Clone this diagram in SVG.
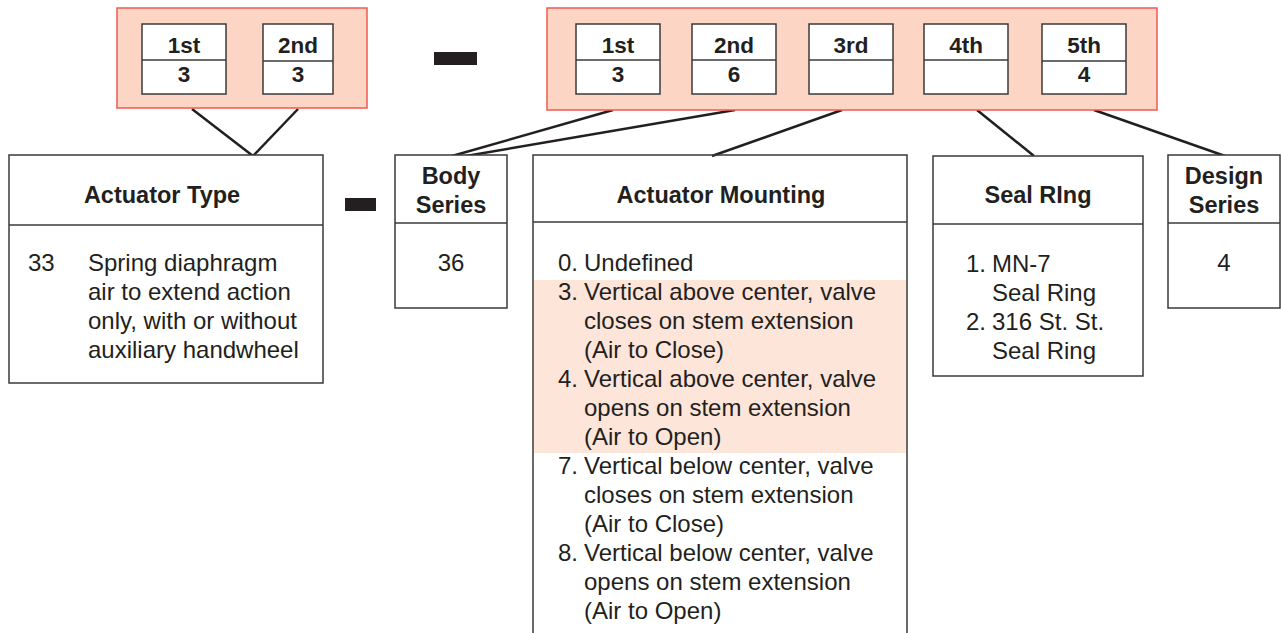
<svg xmlns="http://www.w3.org/2000/svg" width="1281" height="633" viewBox="0 0 1281 633">
<style>
.grp{fill:#fcd5c4;stroke:#ef5a50;stroke-width:1.5}
.cell{fill:#fff;stroke:#3a3a3a;stroke-width:1.5}
.box{fill:#fff;stroke:#3a3a3a;stroke-width:1.5}
.open{fill:none;stroke:#3a3a3a;stroke-width:1.5}
.sep{stroke:#3a3a3a;stroke-width:1.5}
.con{stroke:#231f20;stroke-width:2.5;fill:none}
.b{font-family:"Liberation Sans",Arial,sans-serif;font-weight:bold;font-size:23.5px;fill:#231f20;text-anchor:middle}
.d{font-size:22.5px}
.t{font-family:"Liberation Sans",Arial,sans-serif;font-size:24px;fill:#231f20}
.c{text-anchor:middle}
.dash{fill:#231f20}
</style>
<rect width="1281" height="633" fill="#fff"/>

<g id="connectors">
<line class="con" x1="192" y1="109" x2="253" y2="156"/>
<line class="con" x1="298" y1="109" x2="253" y2="156"/>
<line class="con" x1="613" y1="110" x2="452" y2="156"/>
<line class="con" x1="735" y1="110" x2="466" y2="156"/>
<line class="con" x1="842" y1="110" x2="712" y2="156"/>
<line class="con" x1="977" y1="110" x2="1034" y2="156"/>
<line class="con" x1="1094" y1="110" x2="1225" y2="156"/>
</g>

<g id="code-left">
<rect class="grp" x="117" y="8" width="250" height="100"/>
<rect class="cell" x="142" y="24" width="84" height="70"/>
<line class="sep" x1="142" y1="60" x2="226" y2="60"/>
<text class="b d" x="184" y="53">1st</text>
<text class="b d" x="184" y="82">3</text>
<rect class="cell" x="263" y="24" width="70" height="70"/>
<line class="sep" x1="263" y1="61" x2="333" y2="61"/>
<text class="b d" x="298" y="53">2nd</text>
<text class="b d" x="298" y="82">3</text>
</g>

<g id="dash-top"><rect class="dash" x="434" y="52" width="43" height="13"/></g>
<g id="dash-mid"><rect class="dash" x="345" y="198" width="31" height="13"/></g>

<g id="code-right">
<rect class="grp" x="547" y="8" width="610" height="102"/>
<rect class="cell" x="576" y="24" width="84" height="70"/>
<line class="sep" x1="576" y1="60" x2="660" y2="60"/>
<text class="b d" x="618" y="53">1st</text>
<text class="b d" x="618" y="82">3</text>
<rect class="cell" x="692" y="24" width="84" height="70"/>
<line class="sep" x1="692" y1="60" x2="776" y2="60"/>
<text class="b d" x="734" y="53">2nd</text>
<text class="b d" x="734" y="82">6</text>
<rect class="cell" x="809" y="24" width="84" height="70"/>
<line class="sep" x1="809" y1="60" x2="893" y2="60"/>
<text class="b d" x="851" y="53">3rd</text>
<rect class="cell" x="924" y="24" width="84" height="70"/>
<line class="sep" x1="924" y1="60" x2="1008" y2="60"/>
<text class="b d" x="966" y="53">4th</text>
<rect class="cell" x="1042" y="24" width="84" height="70"/>
<line class="sep" x1="1042" y1="61" x2="1126" y2="61"/>
<text class="b d" x="1084" y="53">5th</text>
<text class="b d" x="1084" y="82">4</text>
</g>

<g id="actuator-type">
<rect class="box" x="9" y="155" width="314" height="228"/>
<line class="sep" x1="9" y1="225" x2="323" y2="225"/>
<text class="b" x="162" y="203">Actuator Type</text>
<text class="t" x="28" y="271">33</text>
<text class="t" x="88" y="271">Spring diaphragm</text>
<text class="t" x="88" y="300">air to extend action</text>
<text class="t" x="88" y="329">only, with or without</text>
<text class="t" x="88" y="358">auxiliary handwheel</text>
</g>

<g id="body-series">
<rect class="box" x="395" y="155" width="112" height="153"/>
<line class="sep" x1="395" y1="223" x2="507" y2="223"/>
<text class="b" x="451" y="184">Body</text>
<text class="b" x="451" y="213">Series</text>
<text class="t c" x="451" y="271">36</text>
</g>

<g id="actuator-mounting">
<rect x="534" y="280" width="372" height="173" fill="#fde5da"/>
<path class="open" d="M533 634 V155 H907 V634"/>
<line class="sep" x1="533" y1="222" x2="907" y2="222"/>
<text class="b" x="721" y="203">Actuator Mounting</text>
<text class="t" x="558" y="271">0.</text><text class="t" x="584" y="271">Undefined</text>
<text class="t" x="558" y="300">3.</text><text class="t" x="584" y="300">Vertical above center, valve</text>
<text class="t" x="584" y="329">closes on stem extension</text>
<text class="t" x="584" y="358">(Air to Close)</text>
<text class="t" x="558" y="387">4.</text><text class="t" x="584" y="387">Vertical above center, valve</text>
<text class="t" x="584" y="416">opens on stem extension</text>
<text class="t" x="584" y="445">(Air to Open)</text>
<text class="t" x="558" y="474">7.</text><text class="t" x="584" y="474">Vertical below center, valve</text>
<text class="t" x="584" y="503">closes on stem extension</text>
<text class="t" x="584" y="532">(Air to Close)</text>
<text class="t" x="558" y="561">8.</text><text class="t" x="584" y="561">Vertical below center, valve</text>
<text class="t" x="584" y="590">opens on stem extension</text>
<text class="t" x="584" y="619">(Air to Open)</text>
</g>

<g id="seal-ring">
<rect class="box" x="933" y="156" width="210" height="220"/>
<line class="sep" x1="933" y1="224" x2="1143" y2="224"/>
<text class="b" x="1038" y="203">Seal RIng</text>
<text class="t" x="966" y="272">1.</text><text class="t" x="992" y="272">MN-7</text>
<text class="t" x="992" y="301">Seal Ring</text>
<text class="t" x="966" y="330">2.</text><text class="t" x="992" y="330">316 St. St.</text>
<text class="t" x="992" y="359">Seal Ring</text>
</g>

<g id="design-series">
<rect class="box" x="1168" y="155" width="112" height="153"/>
<line class="sep" x1="1168" y1="223" x2="1280" y2="223"/>
<text class="b" x="1224" y="184">Design</text>
<text class="b" x="1224" y="213">Series</text>
<text class="t c" x="1224" y="271">4</text>
</g>
</svg>
